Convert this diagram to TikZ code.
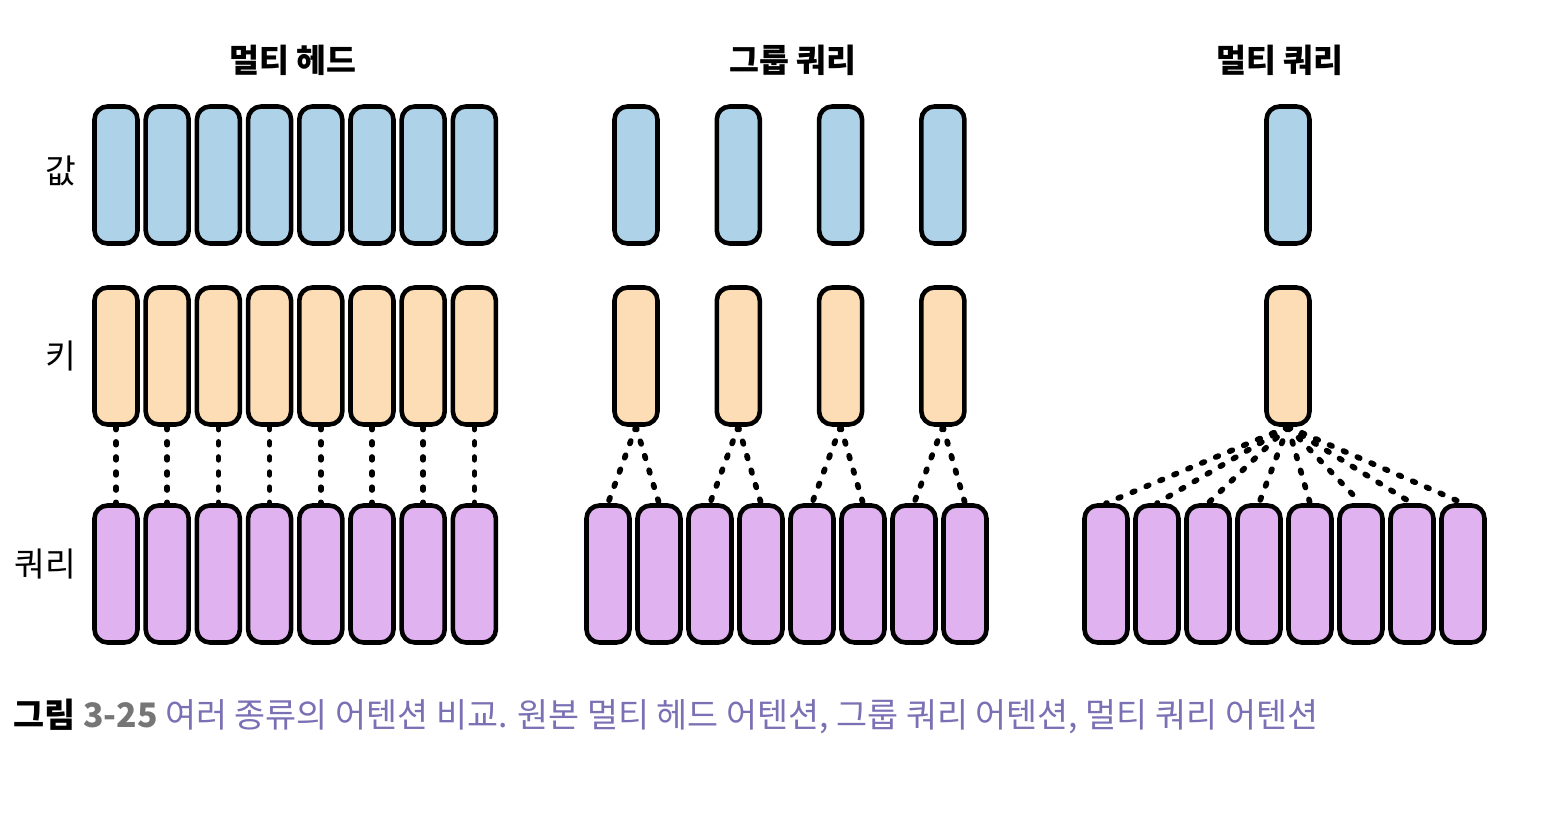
\documentclass[tikz,border=0pt]{standalone}
\usepackage{fontspec}
\setmainfont{Noto Sans CJK KR}

\definecolor{valblue}{RGB}{174,210,232}
\definecolor{keypeach}{RGB}{253,221,182}
\definecolor{qrylilac}{RGB}{224,178,240}
\definecolor{capviolet}{RGB}{122,112,180}
\definecolor{capgray}{RGB}{118,118,118}

\begin{document}
\begin{tikzpicture}[x=0.02cm, y=-0.02cm,
    headbox/.style={draw=black, line width=2.6pt, rounded corners=0.26cm,
        minimum width=0.86cm, minimum height=2.74cm, inner sep=0pt},
    valbox/.style={headbox, fill=valblue},
    keybox/.style={headbox, fill=keypeach},
    qrybox/.style={headbox, fill=qrylilac},
    dotlink/.style={line width=3.2pt, line cap=round, dash pattern=on 1.6pt off 7pt},
    coltitle/.style={font=\fontsize{18.5}{20}\selectfont\bfseries},
    rowlabel/.style={anchor=east, font=\fontsize{19}{21}\selectfont}]

    \useasboundingbox (0,0) rectangle (1558,828);

    %% Titles
    \node[coltitle] (t-mh) at (293,60) {멀티 헤드};
    \node[coltitle] (t-gq) at (793,60) {그룹 쿼리};
    \node[coltitle] (t-mq) at (1280,60) {멀티 쿼리};

    % Row labels
    \node[rowlabel] (l-val) at (82,171) {값};
    \node[rowlabel] (l-key) at (82,356) {키};
    \node[rowlabel] (l-qry) at (82,564) {쿼리};

    %% Multi head
    \foreach \i in {1,...,8} {
        \node[valbox] (mh-v\i) at ({116+51.2*(\i-1)},175) {};
        \node[keybox] (mh-k\i) at ({116+51.2*(\i-1)},356) {};
        \node[qrybox] (mh-q\i) at ({116+51.2*(\i-1)},574) {};
        \draw[dotlink] (mh-k\i.south) -- (mh-q\i.north);
    }

    %% Grouped query
    \foreach \i in {1,...,8}
        \node[qrybox] (gq-q\i) at ({608+51*(\i-1)},574) {};
    \foreach \j/\a/\b in {1/1/2, 2/3/4, 3/5/6, 4/7/8} {
        \node[valbox] (gq-v\j) at ({636+102.3*(\j-1)},175) {};
        \node[keybox] (gq-k\j) at ({636+102.3*(\j-1)},356) {};
        \draw[dotlink] (gq-k\j.south) -- (gq-q\a.north);
        \draw[dotlink] (gq-k\j.south) -- (gq-q\b.north);
    }

    %% Multi query
    \node[valbox] (mq-v) at (1288,175) {};
    \node[keybox] (mq-k) at (1288,356) {};
    \foreach \i in {1,...,8} {
        \node[qrybox] (mq-q\i) at ({1106+51*(\i-1)},574) {};
        \draw[dotlink] (mq-k.south) -- (mq-q\i.north);
    }

    % Caption
    \node[anchor=west, inner sep=0pt, font=\fontsize{19.2}{21}\selectfont] (cap) at (13,716)
        {\textbf{그림 \textcolor{capgray}{3-25}} \textcolor{capviolet}{여러 종류의 어텐션 비교. 원본 멀티 헤드 어텐션, 그룹 쿼리 어텐션, 멀티 쿼리 어텐션}};

\end{tikzpicture}
\end{document}
